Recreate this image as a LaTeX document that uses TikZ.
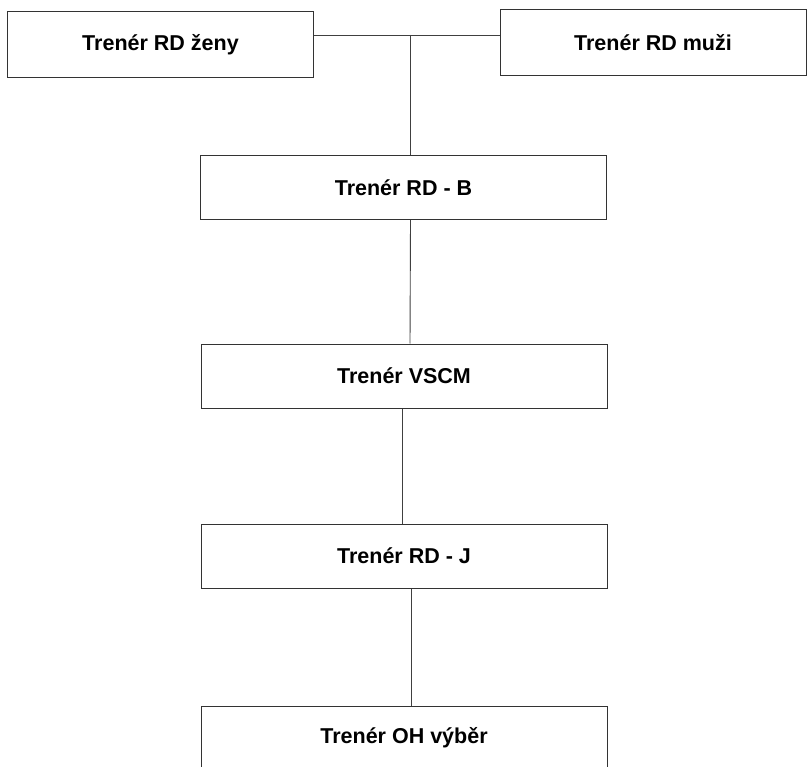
\documentclass[tikz,border=0pt]{standalone}
\usepackage{fontspec}
\setmainfont{Liberation Sans}
\usepackage{tikz}

\begin{document}
\begin{tikzpicture}[
  x=1pt, y=-1pt,
  rolebox/.style={draw=black!80, line width=1pt, fill=white,
    minimum width=406pt, minimum height=64pt, inner sep=0pt,
    font=\fontsize{21.5}{26}\selectfont\bfseries},
  topbox/.style={rolebox, minimum width=306pt, minimum height=66pt},
  link/.style={draw=black!75, line width=0.9pt},
  ]
  \newcommand{\trener}[1]{Tren\'er #1}
  \useasboundingbox (0,0) rectangle (808,767);

  \node[topbox] (zeny) at (160.5,45) {\trener{RD ženy}};
  \node[topbox] (muzi) at (653,43) {\trener{RD muži}};
  \node[rolebox] (rdb) at (403.5,187.5) {\trener{RD - B}};
  \node[rolebox] (vscm) at (404,376) {\trener{VSCM}};
  \node[rolebox] (rdj) at (404,556) {\trener{RD - J}};
  \node[rolebox] (oh) at (404,738) {\trener{OH výběr}};

  \coordinate (join) at (410,35);
  \draw[link] (zeny.east |- join) -- (muzi.west |- join);
  \draw[link] (join) -- (join |- rdb.north);
  \draw[link] ([xshift=7pt]rdb.south) -- ([xshift=6pt]vscm.north);
  \draw[link] ([xshift=-2pt]vscm.south) -- ([xshift=-2pt]rdj.north);
  \draw[link] ([xshift=7pt]rdj.south) -- ([xshift=7pt]oh.north);
\end{tikzpicture}
\end{document}
